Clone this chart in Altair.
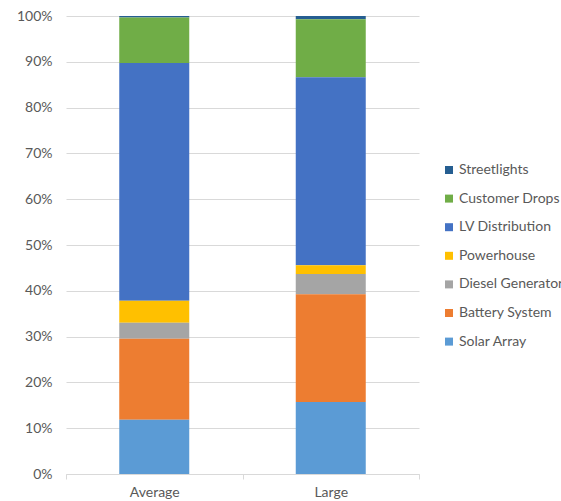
import altair as alt
import pandas as pd

# Cost components, listed from the top of the stack down
components = [
    "Streetlights",
    "Customer Drops",
    "LV Distribution",
    "Powerhouse",
    "Diesel Generator",
    "Battery System",
    "Solar Array",
]
colors = ["#255E91", "#70AD47", "#4472C4", "#FFC000", "#A5A5A5", "#ED7D31", "#5B9BD5"]

# Share of total cost (%) for each system size, same order as components
average_share = [0.35, 9.9, 51.9, 4.8, 3.5, 17.7, 11.85]
large_share = [0.7, 12.7, 41.0, 1.95, 4.4, 23.55, 15.7]

sizes = ["Average", "Large"]

rows = []
for size, shares in zip(sizes, [average_share, large_share]):
    for i, (comp, val) in enumerate(zip(components, shares)):
        rows.append({"size": size, "component": comp, "share": val,
                     "stack_order": len(components) - 1 - i})
df = pd.DataFrame(rows)

text_color = "#595959"
grid_color = "#D9D9D9"
font = "Lato"
font_size = 14

chart = alt.Chart(df).mark_bar(width=70).encode(
    x=alt.X(
        "size:N",
        sort=sizes,
        title=None,
        scale=alt.Scale(paddingInner=0, paddingOuter=0),
        axis=alt.Axis(
            labelAngle=0,
            tickBand="extent",
            grid=False,
            domainColor=grid_color,
            tickColor=grid_color,
            tickSize=5,
            labelPadding=6,
            labelFontSize=font_size,
            labelColor=text_color,
            labelFont=font,
        ),
    ),
    y=alt.Y(
        "share:Q",
        stack="normalize",
        title=None,
        scale=alt.Scale(domain=[0, 1], nice=False),
        axis=alt.Axis(
            format=".0%",
            values=[i / 10 for i in range(11)],
            domain=False,
            ticks=False,
            gridColor=grid_color,
            labelPadding=14,
            labelFontSize=font_size,
            labelColor=text_color,
            labelFont=font,
        ),
    ),
    color=alt.Color(
        "component:N",
        scale=alt.Scale(domain=components, range=colors),
        legend=alt.Legend(
            title=None,
            orient="none",
            legendX=376,
            legendY=147,
            symbolType="square",
            symbolSize=64,
            symbolStrokeWidth=0,
            labelFontSize=font_size,
            labelColor=text_color,
            labelFont=font,
            rowPadding=14.6,
            labelOffset=3,
        ),
    ),
    order=alt.Order("stack_order:Q", sort="ascending"),
).properties(
    width=353,
    height=458,
    padding={"left": 66, "top": 16, "right": 142, "bottom": 27},
    autosize=alt.AutoSizeParams(type="none"),
).configure_view(stroke=None)

chart.save("out.html", embed_options={"renderer": "svg", "actions": False})
